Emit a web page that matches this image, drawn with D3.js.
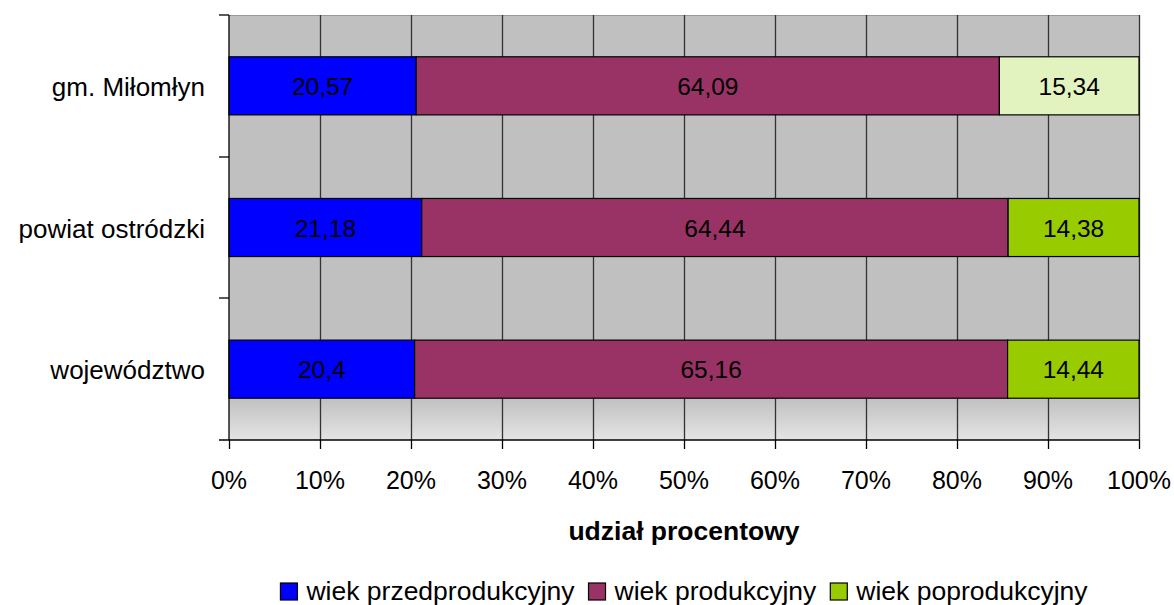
<!DOCTYPE html>
<html><head><meta charset="utf-8">
<script src="https://cdn.jsdelivr.net/npm/d3@7"></script>
<style>body{margin:0;background:#fff}svg{display:block;font-family:"Liberation Sans",Arial,sans-serif}</style>
</head><body><svg id="c" width="1174" height="605"></svg>
<script>
const categories = ["gm. Miłomłyn", "powiat ostródzki", "województwo"];
const seriesNames = ["wiek przedprodukcyjny", "wiek produkcyjny", "wiek poprodukcyjny"];
const przed = [20.57, 21.18, 20.4];
const prod = [64.09, 64.44, 65.16];
const popr = [15.34, 14.38, 14.44];
const labels = [["20,57","64,09","15,34"],["21,18","64,44","14,38"],["20,4","65,16","14,44"]];
const ticks = [0,10,20,30,40,50,60,70,80,90,100];
const colors = ["#0000FF", "#993366", "#99CC00"];
const pointColors = {"0-2": "#E3F3BF"};

const svg = d3.select("#c");
const L = 229, R = 1139, T = 15, B = 440;
const x = d3.scaleLinear().domain([0,100]).range([L,R]);
const y = d3.scaleBand().domain(categories).range([T,B]).paddingInner(0.59).paddingOuter(0.295);

const defs = svg.append("defs");
const g = defs.append("linearGradient").attr("id","bg").attr("x1",0).attr("x2",0).attr("y1",0).attr("y2",1);
g.append("stop").attr("offset","0").attr("stop-color","#c0c0c0");
g.append("stop").attr("offset","0.9").attr("stop-color","#c0c0c0");
g.append("stop").attr("offset","1").attr("stop-color","#e4e4e4");

svg.append("rect").attr("x",L).attr("y",T).attr("width",R-L).attr("height",B-T).attr("fill","url(#bg)");
svg.append("line").attr("x1",L).attr("x2",R).attr("y1",T+0.5).attr("y2",T+0.5).attr("stroke","#999").attr("stroke-width",1);
svg.selectAll(".grid").data(ticks.slice(1)).enter().append("line")
  .attr("x1",d=>Math.round(x(d))+0.5).attr("x2",d=>Math.round(x(d))+0.5).attr("y1",T).attr("y2",B)
  .attr("stroke","#333").attr("stroke-width",1.3);

const stacks = categories.map((c,i)=>{
  const vals=[przed[i],prod[i],popr[i]]; let acc=0;
  return vals.map((v,j)=>{const s={cat:c,i,j,x0:acc,x1:acc+v,v,label:labels[i][j]}; acc+=v; return s;});
}).flat();

svg.selectAll(".bar").data(stacks).enter().append("rect")
  .attr("x",d=>x(d.x0)).attr("width",d=>x(d.x1)-x(d.x0))
  .attr("y",d=>y(d.cat)).attr("height",y.bandwidth())
  .attr("fill",d=>pointColors[d.i+"-"+d.j]||colors[d.j])
  .attr("stroke","#000").attr("stroke-width",1.2);

svg.selectAll(".lbl").data(stacks).enter().append("text")
  .attr("x",d=>(x(d.x0)+x(d.x1))/2).attr("y",d=>y(d.cat)+y.bandwidth()/2+9)
  .attr("text-anchor","middle").attr("font-size",24.5).attr("fill","#000").text(d=>d.label);

const ax = svg.append("g").attr("stroke","#000").attr("stroke-width",1.3);
ax.append("line").attr("x1",L).attr("x2",L).attr("y1",T).attr("y2",B);
ax.append("line").attr("x1",219).attr("x2",R).attr("y1",B).attr("y2",B);
const yTicks=[T, T+(B-T)/3, T+2*(B-T)/3];
ax.selectAll(".yt").data(yTicks).enter().append("line").attr("x1",219).attr("x2",L).attr("y1",d=>Math.round(d)).attr("y2",d=>Math.round(d));
ax.selectAll(".xt").data(ticks).enter().append("line").attr("x1",d=>Math.round(x(d))+0.5).attr("x2",d=>Math.round(x(d))+0.5).attr("y1",B).attr("y2",B+9);

svg.selectAll(".xl").data(ticks).enter().append("text")
  .attr("x",d=>x(d)).attr("y",489).attr("text-anchor","middle").attr("font-size",25).text(d=>d+"%");
svg.selectAll(".cl").data(categories).enter().append("text")
  .attr("x",205).attr("y",d=>y(d)+y.bandwidth()/2+10).attr("text-anchor","end").attr("font-size",26).text(d=>d);
svg.append("text").attr("x",(L+R)/2).attr("y",540).attr("text-anchor","middle").attr("font-size",26.5).attr("font-weight","bold").text("udział procentowy");

const lg = svg.append("g");
const items = [];
seriesNames.forEach((n,i)=>{
  const t = lg.append("text").attr("y",600).attr("font-size",26.5).text(n);
  items.push({t,w:t.node().getComputedTextLength(),i});
});
const total = items.reduce((a,d)=>a+17+9+d.w,0) + 14*(items.length-1);
let lx = (L+R)/2 - total/2;
items.forEach(d=>{
  lg.append("rect").attr("x",lx).attr("y",583).attr("width",17).attr("height",17).attr("fill",colors[d.i]).attr("stroke","#000").attr("stroke-width",1.2);
  d.t.attr("x",lx+26);
  lx += 26 + d.w + 14;
});
</script></body></html>
